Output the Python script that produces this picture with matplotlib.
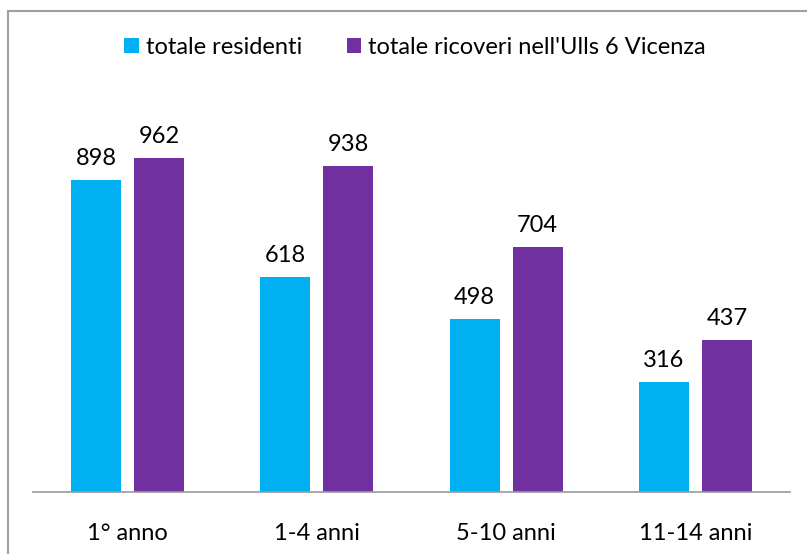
import numpy as np
import matplotlib
matplotlib.use("Agg")
from matplotlib import pyplot as plt
from matplotlib.patches import Rectangle

categories = ["1° anno", "1-4 anni", "5-10 anni", "11-14 anni"]
residenti = [898, 618, 498, 316]
ricoveri = [962, 938, 704, 437]
series_names = ["totale residenti", "totale ricoveri nell'Ulls 6 Vicenza"]
colors = ["#00B0F0", "#7030A0"]

plt.rcParams['font.family'] = ['Lato', 'DejaVu Sans']
fs = 17

W, H = 807, 554
fig = plt.figure(figsize=(W/100, H/100), dpi=100)
# axes placed in pixel terms: baseline at y=492, from x=33 to x=790
ax = fig.add_axes([33/W, (H-492)/H, (790-33)/W, (492-75)/H])

x = np.arange(len(categories))
bw = 0.264
off = (bw + 0.069)/2
b1 = ax.bar(x - off, residenti, bw, color=colors[0], label=series_names[0])
b2 = ax.bar(x + off, ricoveri, bw, color=colors[1], label=series_names[1])

for bars, vals in [(b1, residenti), (b2, ricoveri)]:
    for r, v in zip(bars, vals):
        ax.annotate(str(v), (r.get_x() + r.get_width()/2, v), xytext=(0, 8),
                    textcoords="offset points", ha="center", va="bottom", fontsize=fs)

ax.set_xlim(-0.5, len(categories) - 0.5)
ax.set_ylim(0, 1200)
ax.set_xticks(x)
ax.set_xticklabels(categories, fontsize=fs)
ax.tick_params(axis='x', length=0, pad=22)
ax.set_yticks([])
for s in ["top", "right", "left"]:
    ax.spines[s].set_visible(False)
ax.spines["bottom"].set_color("#999999")
ax.spines["bottom"].set_linewidth(1.2)

fig.legend(loc="center", bbox_to_anchor=(415/W, 1 - 47/H), ncol=2, frameon=False,
           fontsize=fs, handlelength=0.6, handleheight=0.6, handletextpad=0.3,
           columnspacing=1.9)

# outer border of the chart area
fig.patches.append(Rectangle((8/W, -0.1), 1.2, 1 - 11/H + 0.1, transform=fig.transFigure,
                             fill=False, edgecolor="#A0A0A0", linewidth=1.5))

fig.savefig("out.png", dpi=100)
